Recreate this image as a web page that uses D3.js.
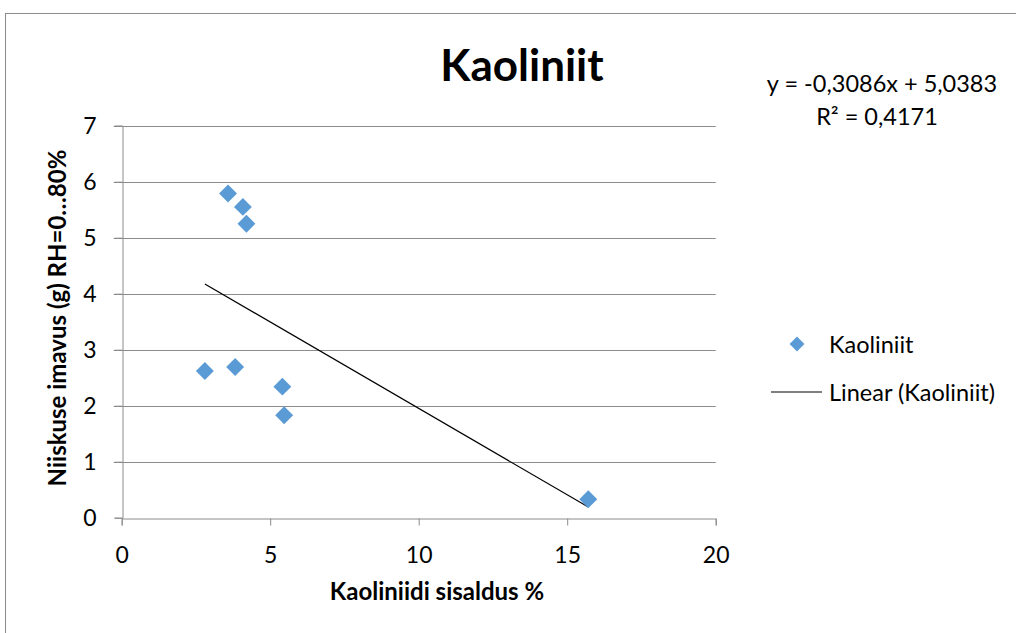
<!DOCTYPE html>
<html><head><meta charset="utf-8">
<script src="https://cdn.jsdelivr.net/npm/d3@7"></script>
<style>body{margin:0;background:#fff;}svg{display:block;font-family:Lato,"Open Sans",sans-serif;}</style>
</head><body><svg id="c" width="1016" height="633"></svg>
<script>
const xValues = [2.80, 3.58, 3.82, 4.08, 4.20, 5.41, 5.47, 15.71];
const yValues = [2.62, 5.79, 2.69, 5.55, 5.25, 2.34, 1.83, 0.33];
const xTicks = [0, 5, 10, 15, 20];
const yTicks = [0, 1, 2, 3, 4, 5, 6, 7];
const slope = -0.3086, intercept = 5.0383;
const title = "Kaoliniit";
const xTitle = "Kaoliniidi sisaldus %";
const yTitle = "Niiskuse imavus (g) RH=0…80%";
const eqText = "y = -0,3086x + 5,0383";
const r2Text = "R² = 0,4171";
const legendLabels = ["Kaoliniit", "Linear (Kaoliniit)"];

const svg = d3.select("#c");
svg.append("rect").attr("x",5.5).attr("y",13.5).attr("width",1100).attr("height",700)
  .attr("fill","#fff").attr("stroke","#8c8c8c").attr("stroke-width",1);

const x = d3.scaleLinear().domain([0,20]).range([121.7,715.7]);
const y = d3.scaleLinear().domain([0,7]).range([517.7,125.7]);

// gridlines
svg.append("g").selectAll("line").data(yTicks.filter(d=>d>0)).join("line")
  .attr("x1",x(0)-8).attr("x2",x(20)).attr("y1",d=>Math.round(y(d))+0.5).attr("y2",d=>Math.round(y(d))+0.5)
  .attr("stroke","#8c8c8c").attr("stroke-width",1);

// y axis
const ya = svg.append("g").attr("transform",`translate(${Math.round(x(0))+0.5},0)`)
  .call(d3.axisLeft(y).tickValues(yTicks).tickSize(8).tickPadding(18).tickFormat(d3.format("d")));
// x axis
const xa = svg.append("g").attr("transform",`translate(0,${Math.round(y(0))+0.5})`)
  .call(d3.axisBottom(x).tickValues(xTicks).tickSize(7).tickPadding(21).tickFormat(d3.format("d")));
[ya,xa].forEach(g=>{
  g.select(".domain").attr("stroke","#8c8c8c");
  g.selectAll(".tick line").attr("stroke","#8c8c8c");
  g.selectAll("text").attr("font-size",23).attr("fill","#000").attr("font-family","Lato,'Open Sans',sans-serif");
});
xa.selectAll("text").attr("dy","0.71em");

// trendline
const xmin = d3.min(xValues), xmax = d3.max(xValues);
svg.append("line").attr("x1",x(xmin)).attr("y1",y(slope*xmin+intercept))
  .attr("x2",x(xmax)).attr("y2",y(slope*xmax+intercept))
  .attr("stroke","#000").attr("stroke-width",1.2);

// points
const sym = d3.symbol().type(d3.symbolSquare).size(160);
svg.append("g").selectAll("path").data(xValues.map((v,i)=>[v,yValues[i]])).join("path")
  .attr("d",sym).attr("transform",d=>`translate(${x(d[0])},${y(d[1])}) rotate(45)`)
  .attr("fill","#5B9BD5");

// title
svg.append("text").attr("x",522).attr("y",81).attr("text-anchor","middle")
  .attr("font-size",44).attr("font-weight","bold").text(title);
// equation
svg.append("text").attr("x",882).attr("y",92).attr("text-anchor","middle").attr("font-size",23.5).text(eqText);
svg.append("text").attr("x",877).attr("y",125).attr("text-anchor","middle").attr("font-size",23.5).text(r2Text);

// axis titles
svg.append("text").attr("x",437).attr("y",600).attr("text-anchor","middle")
  .attr("font-size",24).attr("font-weight","bold").text(xTitle);
svg.append("text").attr("transform",`translate(66,318) rotate(-90)`).attr("text-anchor","middle")
  .attr("font-size",24).attr("font-weight","bold").text(yTitle);

// legend
svg.append("path").attr("d",d3.symbol().type(d3.symbolSquare).size(110)())
  .attr("transform","translate(797,344) rotate(45)").attr("fill","#5B9BD5");
svg.append("text").attr("x",829).attr("y",353).attr("font-size",23.5).text(legendLabels[0]);
svg.append("line").attr("x1",771).attr("x2",822).attr("y1",392).attr("y2",392).attr("stroke","#000").attr("stroke-width",1.2);
svg.append("text").attr("x",829).attr("y",401).attr("font-size",23.5).text(legendLabels[1]);
</script></body></html>
